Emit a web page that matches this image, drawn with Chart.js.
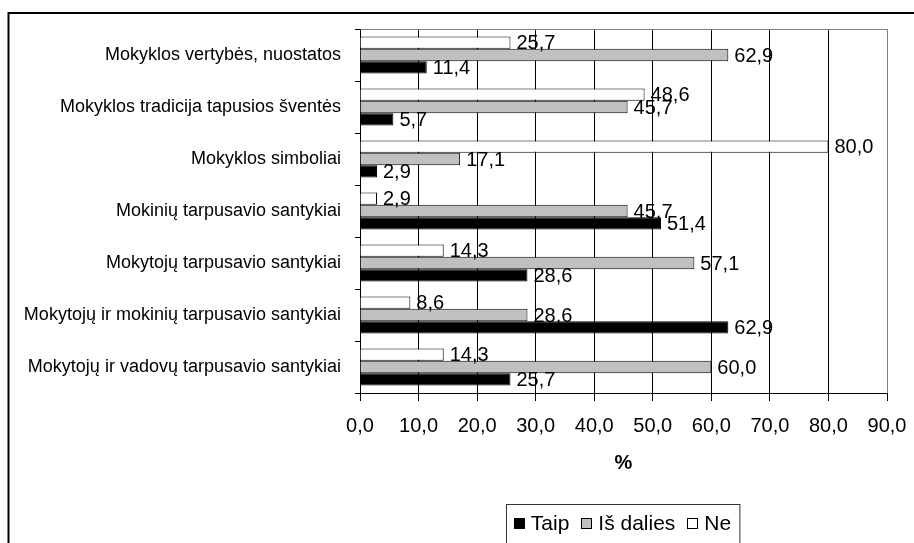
<!DOCTYPE html>
<html>
<head>
<meta charset="utf-8">
<script src="https://cdn.jsdelivr.net/npm/chart.js@4/dist/chart.umd.min.js"></script>
<style>
  html, body { margin: 0; padding: 0; background: #fff; }
  canvas { display: block; }
</style>
</head>
<body>
<canvas id="c" width="914" height="543"></canvas>
<script>
const categories = [
  "Mokyklos vertybės, nuostatos",
  "Mokyklos tradicija tapusios šventės",
  "Mokyklos simboliai",
  "Mokinių tarpusavio santykiai",
  "Mokytojų tarpusavio santykiai",
  "Mokytojų ir mokinių tarpusavio santykiai",
  "Mokytojų ir vadovų tarpusavio santykiai"
];
const seriesNames = ["Taip", "Iš dalies", "Ne"];
const taip = [11.4, 5.7, 2.9, 51.4, 28.6, 62.9, 25.7];
const isDalies = [62.9, 45.7, 17.1, 45.7, 57.1, 28.6, 60.0];
const ne = [25.7, 48.6, 80.0, 2.9, 14.3, 8.6, 14.3];
const xMin = 0, xMax = 90, xStep = 10;
const xTitle = "%";

const FONT = "'Liberation Sans', Arial, sans-serif";
const fmt = v => Number(v).toFixed(1).replace('.', ',');
const seriesColors = { "Taip": "#000000", "Iš dalies": "#c0c0c0", "Ne": "#ffffff" };

Chart.defaults.color = '#000';
Chart.defaults.font.family = FONT;

const framePlugin = {
  id: 'frame',
  beforeDraw(chart) {
    const ctx = chart.ctx;
    ctx.save();
    ctx.fillStyle = '#fff';
    ctx.fillRect(0, 0, chart.width, chart.height);
    ctx.strokeStyle = '#000';
    ctx.lineWidth = 2;
    ctx.beginPath();
    ctx.moveTo(8.5, chart.height + 2);
    ctx.lineTo(8.5, 13);
    ctx.lineTo(chart.width + 2, 13);
    ctx.stroke();
    ctx.restore();
  },
  afterDatasetsDraw(chart) {
    const ctx = chart.ctx;
    const a = chart.chartArea;
    ctx.save();
    // plot-area top border (gray)
    ctx.strokeStyle = '#808080';
    ctx.lineWidth = 1;
    ctx.beginPath();
    ctx.moveTo(Math.round(a.left) + 0.5, Math.round(a.top) + 0.5);
    ctx.lineTo(Math.round(a.right) + 0.5, Math.round(a.top) + 0.5);
    ctx.stroke();
    // data labels
    ctx.fillStyle = '#000';
    ctx.font = '20px ' + FONT;
    ctx.textAlign = 'left';
    ctx.textBaseline = 'middle';
    chart.data.datasets.forEach((ds, di) => {
      const meta = chart.getDatasetMeta(di);
      meta.data.forEach((bar, i) => {
        ctx.fillText(fmt(ds.data[i]), bar.x + 6, bar.y + 1);
      });
    });
    ctx.restore();
  },
  afterDraw(chart) {
    const ctx = chart.ctx;
    const a = chart.chartArea;
    ctx.save();
    ctx.font = '21px ' + FONT;
    ctx.textBaseline = 'middle';
    ctx.textAlign = 'left';
    const sq = 11, gapText = 6, gapItem = 12;
    let total = 0;
    seriesNames.forEach((n, i) => {
      total += sq + gapText + ctx.measureText(n).width + (i < seriesNames.length - 1 ? gapItem : 0);
    });
    const cx = (a.left + a.right) / 2 - 1;
    const boxW = total + 16;
    const boxL = Math.round(cx - boxW / 2) + 0.5;
    const boxT = 504.5;
    ctx.strokeStyle = '#333';
    ctx.lineWidth = 1;
    ctx.strokeRect(boxL, boxT, boxW, 80);
    let x = cx - total / 2;
    const cy = 523.5;
    seriesNames.forEach((n) => {
      const sx = Math.round(x);
      ctx.fillStyle = seriesColors[n];
      ctx.fillRect(sx, Math.round(cy - sq / 2), sq, sq);
      ctx.strokeStyle = '#000';
      ctx.strokeRect(sx + 0.5, Math.round(cy - sq / 2) + 0.5, sq - 1, sq - 1);
      x += sq + gapText;
      ctx.fillStyle = '#000';
      ctx.fillText(n, x, cy + 1);
      x += ctx.measureText(n).width + gapItem;
    });
    ctx.restore();
  }
};

new Chart(document.getElementById('c'), {
  type: 'bar',
  data: {
    labels: categories,
    datasets: [
      { label: seriesNames[2], data: ne, backgroundColor: seriesColors["Ne"] },
      { label: seriesNames[1], data: isDalies, backgroundColor: seriesColors["Iš dalies"] },
      { label: seriesNames[0], data: taip, backgroundColor: seriesColors["Taip"] }
    ].map(d => Object.assign(d, { borderColor: '#000', borderWidth: 1, categoryPercentage: 0.71, barPercentage: 1.0 }))
  },
  options: {
    indexAxis: 'y',
    responsive: false,
    devicePixelRatio: 1,
    animation: false,
    layout: { padding: { top: 29, right: 27, left: 0, bottom: 67.5 } },
    plugins: {
      legend: { display: false },
      tooltip: { enabled: false }
    },
    scales: {
      x: {
        type: 'linear',
        min: xMin, max: xMax,
        ticks: {
          stepSize: xStep,
          callback: v => fmt(v),
          font: { size: 20, family: FONT },
          color: '#000',
          padding: 13,
          maxRotation: 0
        },
        grid: {
          color: c => (c.tick && c.tick.value === xMax) ? '#808080' : '#000',
          tickColor: '#000',
          tickLength: 8,
          lineWidth: 1
        },
        border: { display: true, color: '#000', width: 1 },
        title: {
          display: true,
          text: xTitle,
          font: { size: 20, weight: 'bold', family: FONT },
          color: '#000',
          padding: { top: 0, bottom: 0 }
        },
        afterFit: s => { s.height = 82.5; s.paddingLeft = 0; s.paddingRight = 0; }
      },
      y: {
        type: 'category',
        ticks: {
          font: { size: 18, family: FONT },
          color: '#000',
          padding: 14,
          autoSkip: false
        },
        grid: {
          drawOnChartArea: false,
          offset: true,
          tickLength: 5,
          color: '#000',
          tickColor: '#000'
        },
        border: { display: true, color: '#000', width: 1 },
        afterFit: s => { s.width = 360; s.paddingTop = 0; s.paddingBottom = 0; }
      }
    }
  },
  plugins: [framePlugin]
});
</script>
</body>
</html>
